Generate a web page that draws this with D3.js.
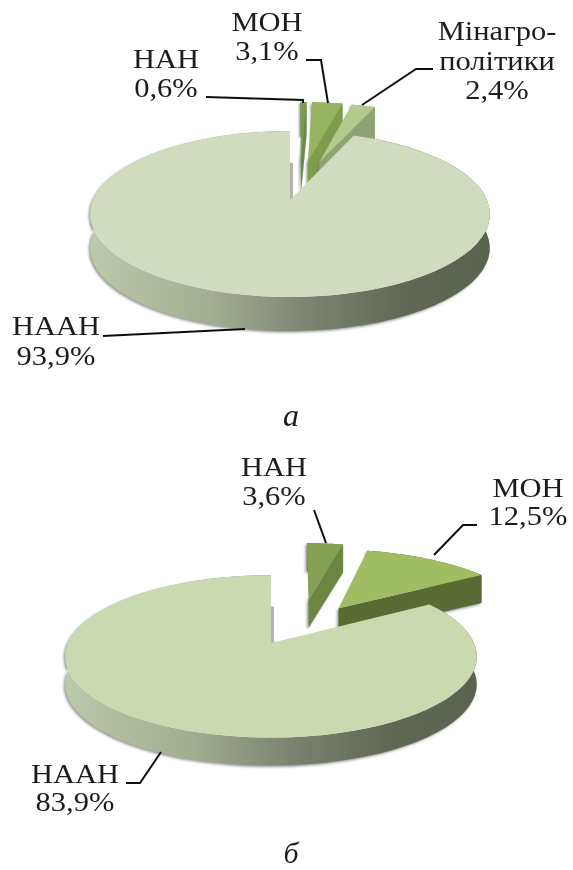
<!DOCTYPE html>
<html>
<head>
<meta charset="utf-8">
<script src="https://cdn.jsdelivr.net/npm/d3@7"></script>
<style>
  html, body { margin: 0; background: #fff; }
  text { font-family: "Liberation Serif", serif; fill: #1c1c1c; font-size: 27px; }
</style>
</head>
<body>
<div id="chart"></div>
<script>
// Shares of the two pies, clockwise from 12 o'clock
const categoriesA = ["НАН", "МОН", "Мінагрополітики", "НААН"];
const valuesA = [0.6, 3.1, 2.4, 93.9];
const categoriesB = ["НАН", "МОН", "НААН"];
const valuesB = [3.6, 12.5, 83.9];

const W = 573, H = 870, SX = 1.13;
const fmt = d3.formatLocale({ decimal: ",", thousands: " ", grouping: [3], currency: ["", ""] }).format(".1f");

const svg = d3.select("#chart").append("svg").attr("width", W).attr("height", H);
const defs = svg.append("defs");

const shadow = defs.append("filter").attr("id", "shadow")
  .attr("x", "-30%").attr("y", "-30%").attr("width", "160%").attr("height", "160%");
shadow.append("feDropShadow").attr("dx", -1.5).attr("dy", 1.5).attr("stdDeviation", 1.3)
  .attr("flood-color", "#777").attr("flood-opacity", 0.75);
defs.append("filter").attr("id", "soft").append("feGaussianBlur").attr("stdDeviation", 0.4);

function sideGradient(id, x1, x2) {
  const g = defs.append("linearGradient").attr("id", id)
    .attr("gradientUnits", "userSpaceOnUse")
    .attr("x1", x1).attr("x2", x2).attr("y1", 0).attr("y2", 0);
  g.append("stop").attr("offset", 0).attr("stop-color", "#bcc8aa");
  g.append("stop").attr("offset", 0.3).attr("stop-color", "#a3ae90");
  g.append("stop").attr("offset", 0.55).attr("stop-color", "#7b8370");
  g.append("stop").attr("offset", 0.8).attr("stop-color", "#5f6753");
  g.append("stop").attr("offset", 1).attr("stop-color", "#5a6450");
}

const root = svg.append("g").attr("filter", "url(#soft)");
const path = d3.line();

// Pie on a tilted disc: unit-disc coordinates seen through a simple perspective
function drawPie(cfg) {
  const project = (X, Y, dx) => {
    const w = 1 - cfg.k * Y;
    return [cfg.x0 + cfg.bx * X / w + (dx || 0), cfg.y0 + cfg.by * Y / w];
  };
  const arcs = d3.pie().sort(null).value(d => d)(cfg.values);
  const g = root.append("g");
  const mainId = "side" + cfg.x0;
  sideGradient(mainId, cfg.x0 - cfg.bx, cfg.x0 + cfg.bx);

  arcs.forEach((a, i) => {
    const s = cfg.slices[i];
    const mid = (a.startAngle + a.endAngle) / 2;
    const ox = s.explode * Math.sin(mid), oy = -s.explode * Math.cos(mid);
    const steps = d3.range(0, 1.0001, 1 / 80)
      .map(t => a.startAngle + t * (a.endAngle - a.startAngle));
    const rim = steps.map(th => project(ox + Math.sin(th), oy - Math.cos(th), s.dx));
    const apex = project(ox, oy, s.dx);
    const down = p => [p[0], p[1] + cfg.depth];
    const sg = g.append("g");
    const walls = sg.append("g").attr("filter", "url(#shadow)");

    // outer rim wall
    walls.append("path")
      .attr("d", path(rim.concat(rim.map(down).reverse())) + "Z")
      .attr("fill", s.main ? `url(#${mainId})` : s.side);
    // cut wall on the clockwise side
    if (!s.main) {
      const end = rim[rim.length - 1];
      walls.append("path")
        .attr("d", path([apex, end, down(end), down(apex)]) + "Z")
        .attr("fill", s.side);
    } else {
      // thin grey wall seen along the vertical cut
      sg.append("path")
        .attr("d", path([project(0, -0.5), apex]))
        .attr("fill", "none").attr("stroke", "#b4b4ac").attr("stroke-width", 3)
        .attr("transform", "translate(1.5,0)");
    }
    // top face
    sg.append("path")
      .attr("d", path([apex].concat(rim)) + "Z")
      .attr("fill", s.top);
  });

  // leader lines and labels
  cfg.leaders.forEach(pts => {
    root.append("path").attr("d", path(pts))
      .attr("fill", "none").attr("stroke", "#111").attr("stroke-width", 2);
  });
  cfg.labels.forEach(l => {
    l.lines.forEach((txt, j) => {
      root.append("text")
        .attr("text-anchor", "middle")
        .attr("transform", `translate(${l.x},${l.y[j]}) scale(${SX},1)`)
        .text(txt);
    });
  });
  root.append("text")
    .attr("x", cfg.letter.x).attr("y", cfg.letter.y)
    .attr("text-anchor", "middle")
    .style("font-style", "italic").style("font-size", cfg.letter.size + "px")
    .text(cfg.letter.text);
}

drawPie({
  values: valuesA,
  x0: 290, y0: 200, bx: 197, by: 80.6, k: 0.169, depth: 34,
  slices: [
    { explode: 0.53, dx: 9, top: "#7e9c4e", side: "#6d8843" },
    { explode: 0.53, dx: 5, top: "#97b35f", side: "#7f9c4c" },
    { explode: 0.53, dx: 0, top: "#b3c98d", side: "#8fa275" },
    { explode: 0, dx: 0, top: "#d0dcbd", main: true }
  ],
  leaders: [
    [[206, 97], [303, 100], [303, 103]],
    [[306, 60], [321, 60], [328, 103]],
    [[433, 69], [416, 69], [362, 105]],
    [[103, 336], [245, 329]]
  ],
  labels: [
    { lines: [categoriesA[0], fmt(valuesA[0]) + "%"], x: 166, y: [68, 97] },
    { lines: [categoriesA[1], fmt(valuesA[1]) + "%"], x: 267, y: [31, 60] },
    { lines: ["Мінагро-", "політики", fmt(valuesA[2]) + "%"], x: 497, y: [40, 70, 99] },
    { lines: [categoriesA[3], fmt(valuesA[3]) + "%"], x: 56, y: [335, 365] }
  ],
  letter: { text: "а", x: 291, y: 426, size: 32 }
});

drawPie({
  values: valuesB,
  x0: 271, y0: 643, bx: 203, by: 79, k: 0.165, depth: 28,
  slices: [
    { explode: 0.6, dx: 25, top: "#84a052", side: "#6c8540" },
    { explode: 0.582, dx: 4, top: "#a1bd63", side: "#5a6a35" },
    { explode: 0, dx: 0, top: "#cbd9b1", main: true }
  ],
  leaders: [
    [[314, 510], [326, 543]],
    [[477, 525], [463, 525], [434, 555]],
    [[126, 783], [140, 783], [161, 752]]
  ],
  labels: [
    { lines: [categoriesB[0], fmt(valuesB[0]) + "%"], x: 274, y: [476, 505] },
    { lines: [categoriesB[1], fmt(valuesB[1]) + "%"], x: 528, y: [497, 525] },
    { lines: [categoriesB[2], fmt(valuesB[2]) + "%"], x: 75, y: [783, 811] }
  ],
  letter: { text: "б", x: 291, y: 863, size: 30 }
});
</script>
</body>
</html>
